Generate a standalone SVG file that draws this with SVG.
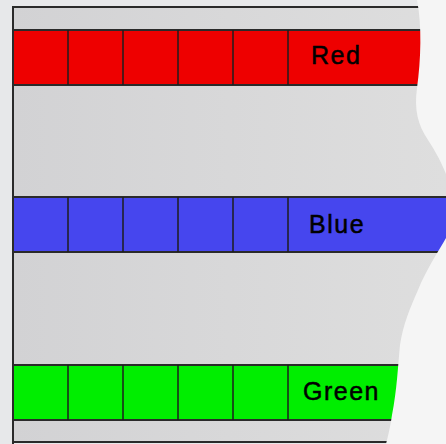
<svg xmlns="http://www.w3.org/2000/svg" width="446" height="444" viewBox="0 0 446 444">
  <defs>
    <linearGradient id="panelGrad" x1="0" y1="0" x2="1" y2="0">
      <stop offset="0" stop-color="#d2d2d4"/>
      <stop offset="1" stop-color="#dedede"/>
    </linearGradient>
    <style>
      .edge { stroke: #2a2a2a; stroke-width: 2; fill: none; }
      .bar { stroke: #2a2a2a; stroke-width: 2; }
      .cell { stroke: #1e1e1e; stroke-width: 1.5; }
      .lbl { font-family: "Liberation Sans", Arial, sans-serif; font-size: 25px; letter-spacing: 1.5px; fill: #000; stroke: #000; stroke-width: 0.5; }
      .torn { fill: #f5f5f5; stroke: none; }
    </style>
  </defs>
  <rect x="0" y="0" width="446" height="444" fill="#e7e8ea"/>
  <g id="panel">
    <rect x="13" y="7" width="433" height="435" fill="url(#panelGrad)"/>
    <path class="edge" d="M13,444 L13,7 L446,7 M13,442 L446,442"/>
  </g>
  <g id="bar-red">
    <rect class="bar" x="13" y="30" width="440" height="55" fill="#ee0000"/>
    <path class="cell" d="M68,30 V85 M123,30 V85 M178,30 V85 M233,30 V85 M288,30 V85"/>
    <text class="lbl" x="311" y="64">Red</text>
  </g>
  <g id="bar-blue">
    <rect class="bar" x="13" y="197" width="440" height="55" fill="#4646ee"/>
    <path class="cell" d="M68,197 V252 M123,197 V252 M178,197 V252 M233,197 V252 M288,197 V252"/>
    <text class="lbl" x="309" y="233">Blue</text>
  </g>
  <g id="bar-green">
    <rect class="bar" x="13" y="365" width="440" height="55" fill="#00ee00"/>
    <path class="cell" d="M68,365 V420 M123,365 V420 M178,365 V420 M233,365 V420 M288,365 V420"/>
    <text class="lbl" x="303" y="400">Green</text>
  </g>
  <g id="torn-edge">
    <path class="torn" d="M417,0 C422,25 421,60 417,88 C414,110 418,125 428,140 C436,152 442,164 446,174 L446,0 Z"/>
    <path class="torn" d="M446,238 C438,252 426,270 418,290 C410,308 403,325 400,345 C398,365 397,390 392,415 C390,428 388,436 386,444 L446,444 Z"/>
  </g>
</svg>
